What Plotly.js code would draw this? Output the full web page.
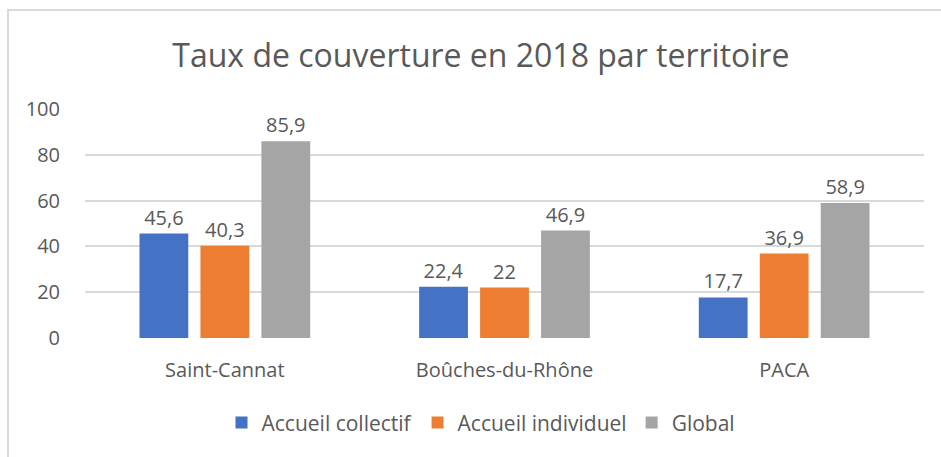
<!DOCTYPE html>
<html>
<head>
<meta charset="utf-8">
<script src="https://cdn.plot.ly/plotly-3.0.1.min.js"></script>
<style>
  html, body { margin: 0; padding: 0; background: #fff; }
  #wrap { position: relative; width: 941px; height: 457px; overflow: hidden; }
  #chart { position: absolute; left: 0; top: 0; width: 941px; height: 457px; }
  #frame { position: absolute; left: 7px; top: 9px; width: 960px; height: 470px;
           border-left: 2px solid #d9d9d9; border-top: 2px solid #d9d9d9; pointer-events: none; }
</style>
</head>
<body>
<div id="wrap">
  <div id="chart"></div>
  <div id="frame"></div>
</div>
<script>
const categories = ["Saint-Cannat", "Boûches-du-Rhône", "PACA"];
const seriesNames = ["Accueil collectif", "Accueil individuel", "Global"];
const accueilCollectif = [45.6, 22.4, 17.7];
const accueilIndividuel = [40.3, 22, 36.9];
const globalValues = [85.9, 46.9, 58.9];
const yTicks = [0, 20, 40, 60, 80, 100];
const colors = ["#4472C4", "#ED7D31", "#A5A5A5"];

const fontFamily = "'Open Sans', 'Noto Sans', sans-serif";
const textColor = "#595959";
const fmt = v => String(v).replace('.', ',');

const allSeries = [accueilCollectif, accueilIndividuel, globalValues];
const traces = allSeries.map((vals, i) => ({
  type: 'bar',
  name: seriesNames[i],
  x: categories,
  y: vals,
  text: vals.map(fmt),
  textposition: 'outside',
  cliponaxis: false,
  textfont: { family: fontFamily, size: 20, color: textColor },
  marker: { color: colors[i] },
  hoverinfo: 'skip'
}));

const layout = {
  width: 941,
  height: 457,
  paper_bgcolor: 'rgba(0,0,0,0)',
  plot_bgcolor: 'rgba(0,0,0,0)',
  margin: { l: 85, r: 17, t: 109, b: 119 },
  barmode: 'group',
  bargap: 0.346,
  bargroupgap: 0.2,
  separators: ', ',
  title: {
    text: 'Taux de couverture en 2018 par territoire',
    font: { family: fontFamily, size: 32, color: textColor },
    x: 0.511, xanchor: 'center', xref: 'container',
    y: 0.878, yanchor: 'middle', yref: 'container'
  },
  xaxis: {
    type: 'category',
    showgrid: false,
    showline: false,
    zeroline: false,
    ticks: 'outside',
    ticklen: 14,
    tickcolor: 'rgba(0,0,0,0)',
    tickfont: { family: fontFamily, size: 20, color: textColor }
  },
  yaxis: {
    range: [0, 100],
    tickvals: yTicks,
    ticktext: yTicks.map(String),
    showgrid: true,
    gridcolor: '#d9d9d9',
    gridwidth: 2,
    zeroline: false,
    showline: false,
    ticks: 'outside',
    ticklen: 20,
    tickcolor: 'rgba(0,0,0,0)',
    tickfont: { family: fontFamily, size: 20, color: textColor }
  },
  showlegend: true,
  legend: {
    orientation: 'h',
    x: 0.472, xanchor: 'center',
    y: -0.371, yanchor: 'middle',
    font: { family: fontFamily, size: 21, color: textColor },
    itemwidth: 30,
    traceorder: 'normal'
  }
};

Plotly.newPlot('chart', traces, layout, { displayModeBar: false, staticPlot: true });
</script>
</body>
</html>
